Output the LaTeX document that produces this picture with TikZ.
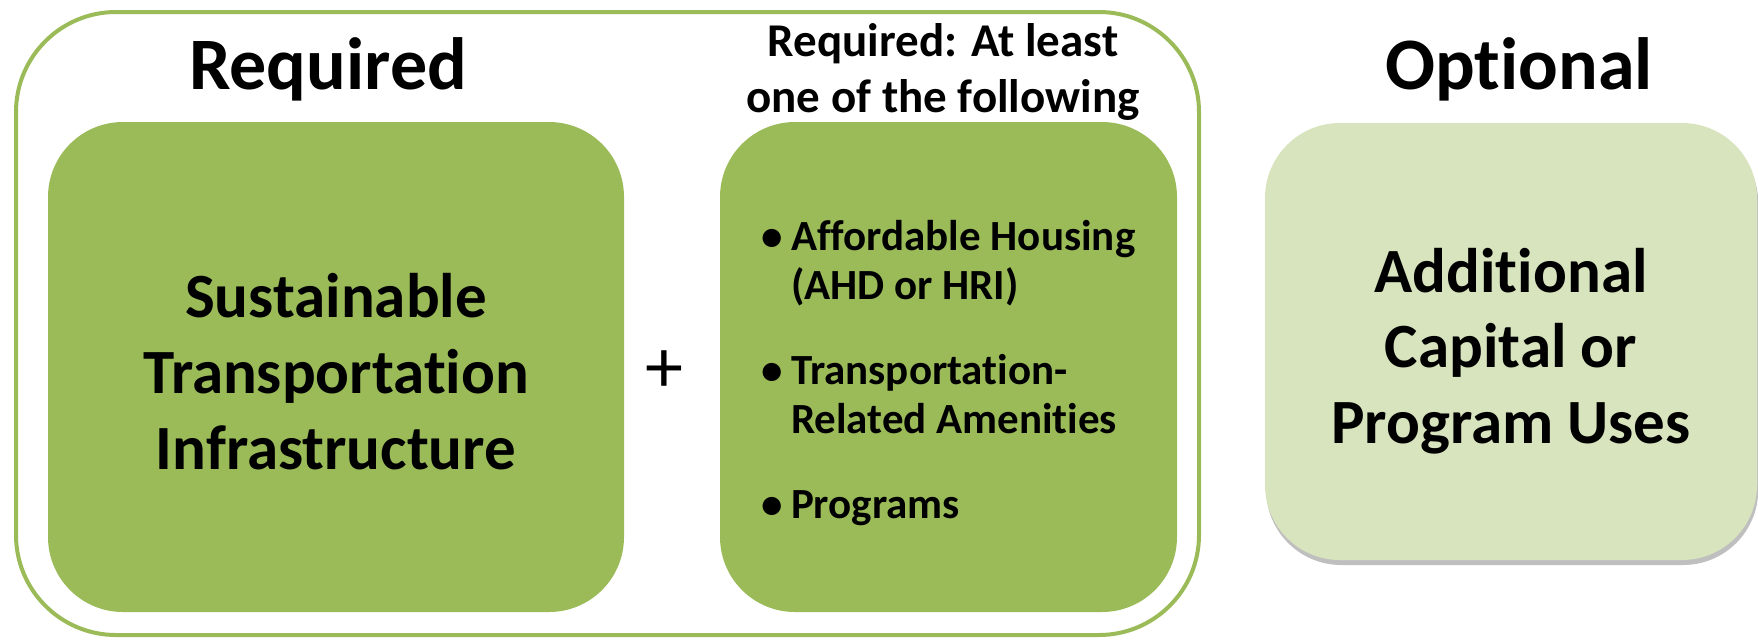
\documentclass[tikz,border=0pt]{standalone}
\usepackage{fontspec}
\setmainfont{Carlito}[RawFeature={-liga;-clig;-calt;-dlig}]
\usetikzlibrary{shapes,positioning,calc,shadows}
\usepackage{xcolor}
\definecolor{fundgreen}{HTML}{9BBB59}
\definecolor{palegreen}{HTML}{D7E4BD}

\begin{document}
\begin{tikzpicture}[x=0.5pt, y=-0.5pt]
    \tikzstyle{block} = [rectangle, rounded corners=37.5pt, inner sep=0pt, text depth=0pt, font=\bfseries\fontsize{31.5}{37.8}\selectfont]
    \tikzstyle{heading} = [anchor=base, inner sep=0pt, font=\bfseries\fontsize{37}{42}\selectfont]
    \useasboundingbox (0,0) rectangle (1758,639);

    \node[rectangle, draw=fundgreen, line width=2pt, rounded corners=50pt,
          minimum width=591.5pt, minimum height=311.5pt] (required) at (607.5,323.5) {};

    \node[block, fill=fundgreen, minimum width=288pt, minimum height=245pt] (infra) at (336,367) {
        \begin{tabular}[b]{@{}c@{}}
        Sustainable\\
        Transportation\\
        Infrastructure
        \end{tabular}
    };

    \node[block, fill=fundgreen, minimum width=228.5pt, minimum height=245pt,
          font=\bfseries\fontsize{21.5}{24.5}\selectfont] (oneof) at (948.5,367) {
        \begin{tabular}[b]{@{}l@{\hspace{4pt}}l@{}}
        \textbullet & Affordable Housing\\
                    & (AHD or HRI)\\[18pt]
        \textbullet & Transportation-\\
                    & Related Amenities\\[18pt]
        \textbullet & Programs
        \end{tabular}
    };

    \node[block, fill=palegreen, minimum width=246pt, minimum height=218.5pt,
          drop shadow={shadow xshift=0.6pt, shadow yshift=-2.5pt, opacity=0.5}] (extra) at (1511,341.5) {
        \begin{tabular}[b]{@{}c@{}}
        Additional\\
        Capital or\\
        Program Uses
        \end{tabular}
    };

    \node[heading] (reqtitle) at (328,89) {Required};
    \node[heading] (opttitle) at (1519,89) {Optional};
    \node[anchor=base, inner sep=0pt, font=\bfseries\fontsize{23.5}{28}\selectfont] (oneoftitle) at (943,112) {
        \begin{tabular}[b]{@{}c@{}}
        Required: At least\\
        one of the following
        \end{tabular}
    };

    \node[inner sep=0pt, font=\fontsize{38}{40}\selectfont] (plus) at (664,372) {+};
\end{tikzpicture}
\end{document}
